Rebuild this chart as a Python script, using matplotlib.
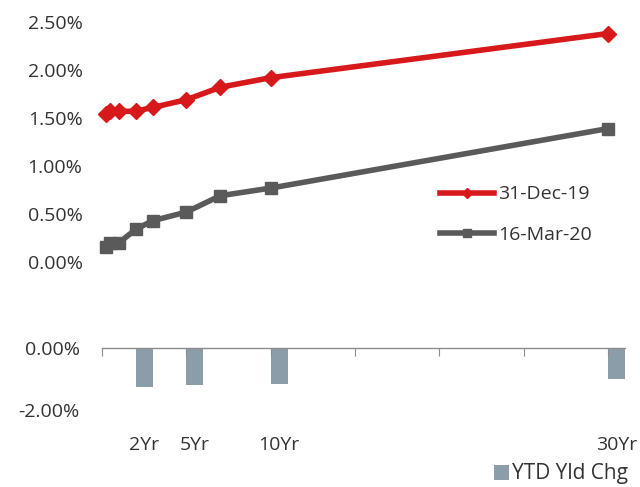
import numpy as np
import matplotlib
matplotlib.use("Agg")
import matplotlib.pyplot as plt

# maturities in years (3M .. 30Y)
maturities = [0.25, 0.5, 1, 2, 3, 5, 7, 10, 30]
yld_dec19 = [1.54, 1.57, 1.57, 1.57, 1.61, 1.69, 1.82, 1.92, 2.38]
yld_mar20 = [0.16, 0.20, 0.20, 0.34, 0.43, 0.52, 0.69, 0.77, 1.39]

chg_tenors = [2, 5, 10, 30]
chg_labels = ["2Yr", "5Yr", "10Yr", "30Yr"]
ytd_chg = [-1.26, -1.19, -1.15, -1.01]

red = "#D7191C"
grey = "#5A5A5A"
bar_col = "#8C9DAA"
txt = "#333333"

plt.rcParams['font.family'] = ['Open Sans', 'DejaVu Sans']
plt.rcParams['font.size'] = 14
plt.rcParams['text.color'] = txt

W, H = 640, 487
fig = plt.figure(figsize=(W / 100, H / 100), dpi=100)

def box(x0, y_top, x1, y_bot):
    return [x0 / W, 1 - y_bot / H, (x1 - x0) / W, (y_bot - y_top) / H]

# upper chart: the two curves
ax = fig.add_axes(box(102, 22, 625, 262))
ax.plot(maturities, yld_dec19, color=red, lw=4, marker="D", ms=8,
        label="31-Dec-19", clip_on=False)
ax.plot(maturities, yld_mar20, color=grey, lw=4, marker="s", ms=8,
        label="16-Mar-20", clip_on=False)
ax.set_xlim(0, 31)
ax.set_ylim(0, 2.5)
ax.set_yticks(np.arange(0, 2.51, 0.5))
ax.set_yticklabels(["{:.2f}%".format(v) for v in np.arange(0, 2.51, 0.5)])
ax.set_xticks([])
ax.tick_params(axis="y", length=0, pad=14, labelcolor=txt)
for s in ax.spines.values():
    s.set_visible(False)

leg = ax.legend(loc="center left", bbox_to_anchor=(440 / W, 1 - 214.5 / H),
                bbox_transform=fig.transFigure, frameon=False, borderpad=0,
                borderaxespad=0, handlelength=2.8, handletextpad=0.2,
                labelspacing=1.15, markerscale=0.65, fontsize=14)

# lower chart: ytd change bars
bx = fig.add_axes(box(102, 348, 625, 410))
bx.bar(chg_tenors, ytd_chg, width=1, align="edge", color=bar_col,
       label="YTD Yld Chg")
bx.set_xlim(0, 31)
bx.set_ylim(-2, 0)
bx.set_yticks([0, -2])
bx.set_yticklabels(["0.00%", "-2.00%"])
bx.tick_params(axis="y", length=0, pad=16, labelcolor=txt)
for k in ["left", "right", "bottom"]:
    bx.spines[k].set_visible(False)
bx.spines["top"].set_color("#8C8C8C")
bx.spines["top"].set_linewidth(1)
bx.xaxis.set_ticks_position("top")
bx.set_xticks(np.arange(0, 31, 5))
bx.set_xticklabels([])
bx.tick_params(axis="x", which="major", direction="in", length=6,
               color="#8C8C8C", top=True, bottom=False)
bx.set_xticks([t + 0.5 for t in chg_tenors], minor=True)
bx.set_xticklabels(chg_labels, minor=True)
bx.tick_params(axis="x", which="minor", bottom=True, top=False,
               labelbottom=True, labeltop=False, length=0, pad=19,
               labelcolor=txt)

bx.legend(loc="center left", bbox_to_anchor=(494 / W, 1 - 474 / H),
          bbox_transform=fig.transFigure, frameon=False, borderpad=0,
          borderaxespad=0, handlelength=0.7, handleheight=0.7,
          handletextpad=0.15, fontsize=15)

fig.savefig("out.png", dpi=100)
